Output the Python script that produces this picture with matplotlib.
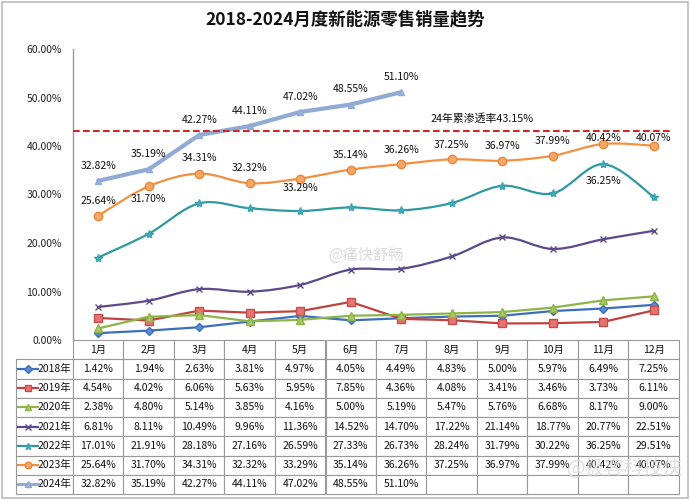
import numpy as np
import matplotlib
matplotlib.use("Agg")
import matplotlib.pyplot as plt
from matplotlib.path import Path
from matplotlib.patches import PathPatch, Rectangle
from matplotlib.lines import Line2D

plt.rcParams['font.family'] = ['Noto Sans CJK SC', 'DejaVu Sans']

months = ['1月', '2月', '3月', '4月', '5月', '6月', '7月', '8月', '9月', '10月', '11月', '12月']
years = ['2018年', '2019年', '2020年', '2021年', '2022年', '2023年', '2024年']
v2018 = [1.42, 1.94, 2.63, 3.81, 4.97, 4.05, 4.49, 4.83, 5.00, 5.97, 6.49, 7.25]
v2019 = [4.54, 4.02, 6.06, 5.63, 5.95, 7.85, 4.36, 4.08, 3.41, 3.46, 3.73, 6.11]
v2020 = [2.38, 4.80, 5.14, 3.85, 4.16, 5.00, 5.19, 5.47, 5.76, 6.68, 8.17, 9.00]
v2021 = [6.81, 8.11, 10.49, 9.96, 11.36, 14.52, 14.70, 17.22, 21.14, 18.77, 20.77, 22.51]
v2022 = [17.01, 21.91, 28.18, 27.16, 26.59, 27.33, 26.73, 28.24, 31.79, 30.22, 36.25, 29.51]
v2023 = [25.64, 31.70, 34.31, 32.32, 33.29, 35.14, 36.26, 37.25, 36.97, 37.99, 40.42, 40.07]
v2024 = [32.82, 35.19, 42.27, 44.11, 47.02, 48.55, 51.10]
cum_2024 = 43.15
yticks = [0, 10, 20, 30, 40, 50, 60]

series = [v2018, v2019, v2020, v2021, v2022, v2023, v2024]
styles = [
    dict(color='#3D6EBC', mfc='#5B8BD0', mec='#3D6EBC', marker='D', ms=4.5, lw=1.6, smooth=False),
    dict(color='#BE4340', mfc='#E8736F', mec='#C0504D', marker='s', ms=6, lw=1.6, smooth=False),
    dict(color='#8DB446', mfc='#A8C865', mec='#8DB446', marker='^', ms=6, lw=1.6, smooth=False),
    dict(color='#5B4A8A', mfc='#7A68A8', mec='#5B4A8A', marker='x', ms=5, lw=1.6, smooth=True),
    dict(color='#2F9A9E', mfc='#4BACC6', mec='#3AA4B0', marker='*', ms=6, lw=1.6, smooth=True),
    dict(color='#F39040', mfc='#F6A868', mec='#E8883A', marker='o', ms=6, lw=1.6, smooth=True),
    dict(color='#8FAAD3', mfc='#9DB5DA', mec='#8FAAD3', marker='^', ms=5, lw=3.0, smooth=False),
]

fig = plt.figure(figsize=(6.9, 5.0), dpi=100)
fig.patches.append(Rectangle((0.003, 0.004), 0.994, 0.992, transform=fig.transFigure,
                             fill=False, edgecolor='#BBBBBB', lw=1.2))
ax = fig.add_axes([73/690, 160/500, 606/690, 291/500])

fig.text(0.5, 0.962, '2018-2024月度新能源零售销量趋势', ha='center', va='center',
         fontsize=12.5, fontweight='bold', color='#111111')


def smooth_path(xs, ys):
    pts = np.column_stack([xs, ys]).astype(float)
    n = len(pts)
    verts = [pts[0]]
    codes = [Path.MOVETO]
    for i in range(n - 1):
        p0 = pts[i - 1] if i > 0 else pts[i]
        p1 = pts[i]
        p2 = pts[i + 1]
        p3 = pts[i + 2] if i + 2 < n else pts[i + 1]
        c1 = p1 + (p2 - p0) / 6.0
        c2 = p2 - (p3 - p1) / 6.0
        verts += [c1, c2, p2]
        codes += [Path.CURVE4] * 3
    return Path(verts, codes)


for vals, st in zip(series, styles):
    xs = np.arange(len(vals))
    if st['smooth']:
        ax.add_patch(PathPatch(smooth_path(xs, vals), facecolor='none',
                               edgecolor=st['color'], lw=st['lw'], zorder=2,
                               capstyle='round', joinstyle='round'))
        ax.plot(xs, vals, ls='none', marker=st['marker'], ms=st['ms'], mfc=st['mfc'],
                mec=st['mec'], mew=1.0, zorder=3)
    else:
        ax.plot(xs, vals, color=st['color'], lw=st['lw'], marker=st['marker'], ms=st['ms'],
                mfc=st['mfc'], mec=st['mec'], mew=1.0, zorder=3, solid_capstyle='round')

# data labels (offsets in points; positive = above)
lab_kw = dict(fontsize=7.5, color='#111111', ha='center', va='center')
for i, v in enumerate(v2024):
    ax.annotate(f'{v:.2f}%', (i, v), xytext=(0, 11), textcoords='offset points', **lab_kw)
off_2023 = [10.5, -9.5, 11, 11, -7, 10.5, 10.5, 10.5, 10.5, 10.5, 4.5, 5.5]
for i, v in enumerate(v2023):
    ax.annotate(f'{v:.2f}%', (i, v), xytext=(0, off_2023[i]), textcoords='offset points', **lab_kw)
ax.annotate(f'{v2022[10]:.2f}%', (10, v2022[10]), xytext=(0, -12), textcoords='offset points',
            **lab_kw)

# cumulative line
ax.axhline(cum_2024, xmin=0, xmax=0.99, color='#D02828', lw=1.5, ls=(0, (3.2, 1.6)), zorder=4)
ax.annotate(f'24年累渗透率{cum_2024:.2f}%', (7.6, cum_2024), xytext=(0, 9),
            textcoords='offset points', ha='center', va='center', fontsize=7.8, color='#111111')

# watermarks
fig.text(0.53, 0.49, '@痛快舒畅', ha='center', va='center', fontsize=11, color='#DADADA', zorder=0)
fig.text(0.905, 0.062, '@极客科技侠', ha='center', va='center', fontsize=14, color='#D8D8D8',
         alpha=0.8, zorder=10)

ax.set_xlim(-0.5, len(months) - 0.5)
ax.set_ylim(0, 60)
ax.set_yticks(yticks)
ax.set_yticklabels([f'{t:.2f}%' for t in yticks], fontsize=7.5, color='#222222')
ax.tick_params(axis='y', length=0, pad=8)
ax.set_xticks([])
for s in ['top', 'right', 'bottom']:
    ax.spines[s].set_visible(False)
ax.spines['left'].set_color('#999999')
ax.spines['left'].set_linewidth(1.0)

# table
cell_text = []
for yr, vals in zip(years, series):
    row = [yr] + [f'{v:.2f}%' for v in vals] + [''] * (len(months) - len(vals))
    cell_text.append(row)
lab_w = 57 / 606
col_w = 1.0 / len(months)
tab_h = 154 / 291
tbl = ax.table(cellText=cell_text, colLabels=[''] + months,
               colWidths=[lab_w] + [col_w] * len(months),
               bbox=[-lab_w, -tab_h, 1 + lab_w, tab_h], cellLoc='center')
tbl.auto_set_font_size(False)
tbl.set_fontsize(7.5)
for (r, c), cell in tbl.get_celld().items():
    cell.set_edgecolor('#999999')
    cell.set_linewidth(0.8)
    cell.get_text().set_color('#111111')
    if r == 0 and c == 0:
        cell.visible_edges = ''
    if c == 0 and r > 0:
        cell.get_text().set_ha('right')
        cell._loc = 'right'
        cell.PAD = 0.03

# legend keys in label column
n_rows = len(years) + 1
row_h = tab_h / n_rows
for k, st in enumerate(styles):
    yc = -row_h * (k + 1.5)
    x0 = -lab_w + 0.004
    x1 = -lab_w + 0.036
    ax.add_line(Line2D([x0, x1], [yc, yc], transform=ax.transAxes, color=st['color'],
                       lw=min(st['lw'], 2.2), clip_on=False))
    ax.add_line(Line2D([(x0 + x1) / 2], [yc], transform=ax.transAxes, ls='none',
                       marker=st['marker'], ms=st['ms'] * 0.8, mfc=st['mfc'], mec=st['mec'],
                       clip_on=False))

fig.savefig('out.png', dpi=100)
